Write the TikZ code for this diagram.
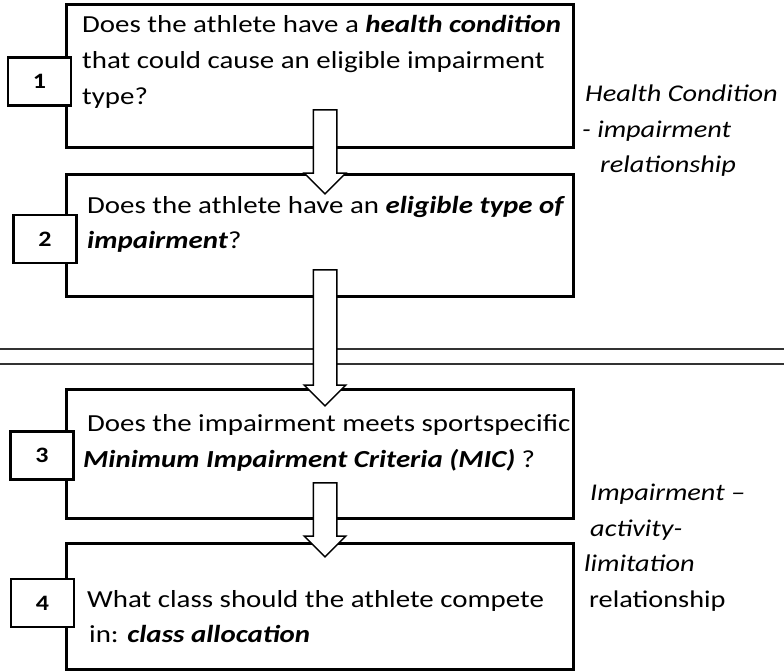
\documentclass[tikz,border=0pt]{standalone}
\usepackage{fontspec}
\setmainfont{Carlito}[FakeStretch=1.18]
\usetikzlibrary{shapes.arrows}

\tikzset{
  stepframe/.style={draw, line width=3pt, minimum width=507pt, anchor=north west, inner sep=0pt},
  numbox/.style={draw, fill=white, line width=2.5pt, minimum width=63pt, minimum height=48pt,
    inner sep=0pt, font=\fontsize{22}{26}\selectfont\bfseries},
  steptext/.style={anchor=base west, align=left, inner sep=0pt, font=\fontsize{24.5}{36}\selectfont},
  sidenote/.style={anchor=base west, align=left, inner sep=0pt, font=\fontsize{24}{35.5}\selectfont},
  flowarrow/.style={single arrow, draw, fill=white, line width=1.5pt, rotate=-90,
    inner xsep=0pt, inner ysep=11pt, single arrow head extend=9pt},
}
\newcommand{\keyterm}[1]{\textbf{\textit{#1}}}

\begin{document}
\begin{tikzpicture}[x=1pt, y=-1pt]
  \useasboundingbox (0,0) rectangle (784,671);

  % the four steps
  \node[stepframe, minimum height=143pt] (frame1) at (65,3) {};
  \node[stepframe, minimum height=122pt] (frame2) at (65,173) {};
  \node[stepframe, minimum height=129pt] (frame3) at (65,388) {};
  \node[stepframe, minimum height=126pt] (frame4) at (65,542) {};

  % separator
  \draw[line width=1.5pt, black!80] (0,349) -- (784,349);
  \draw[line width=1.5pt, black!80] (0,364) -- (784,364);

  % block arrows between steps
  \node[flowarrow, minimum height=84pt] (arrow12) at (325,146) {};
  \node[flowarrow, minimum height=136pt] (arrow23) at (325,332) {};
  \node[flowarrow, minimum height=74pt] (arrow34) at (325,514) {};

  % step numbers
  \node[numbox] (num1) at (39.5,81.5) {1};
  \node[numbox] (num2) at (45,239) {2};
  \node[numbox] (num3) at (42,455.5) {3};
  \node[numbox] (num4) at (42.5,603) {4};

  % questions (anchored on the last line)
  \node[steptext] (text1) at (82,105) {Does the athlete have a \keyterm{health condition}\\
    that could cause an eligible impairment\\ type?};
  \node[steptext, font=\fontsize{24.5}{35}\selectfont] (text2) at (87,248)
    {Does the athlete have an \keyterm{eligible type of}\\ \keyterm{impairment}?};
  \node[steptext] (text3) at (87,467) {Does the impairment meets sportspecific\\
    \hspace*{-4pt}\keyterm{Minimum Impairment Criteria (MIC)} ?};
  \node[steptext, font=\fontsize{24.5}{35}\selectfont] (text4) at (87,642)
    {What class should the athlete compete\\ \hspace*{2pt}in: \keyterm{class allocation}};

  % relationships
  \node[sidenote] (note1) at (582,173) {\hspace*{3pt}\textit{Health Condition}\\
    \textit{- impairment}\\ \hspace*{18pt}\textit{relationship}};
  \node[sidenote] (note2) at (584,607) {\hspace*{6pt}\textit{Impairment –}\\
    \hspace*{6pt}\textit{activity-}\\ \textit{limitation}\\ \hspace*{5pt}relationship};
\end{tikzpicture}
\end{document}
